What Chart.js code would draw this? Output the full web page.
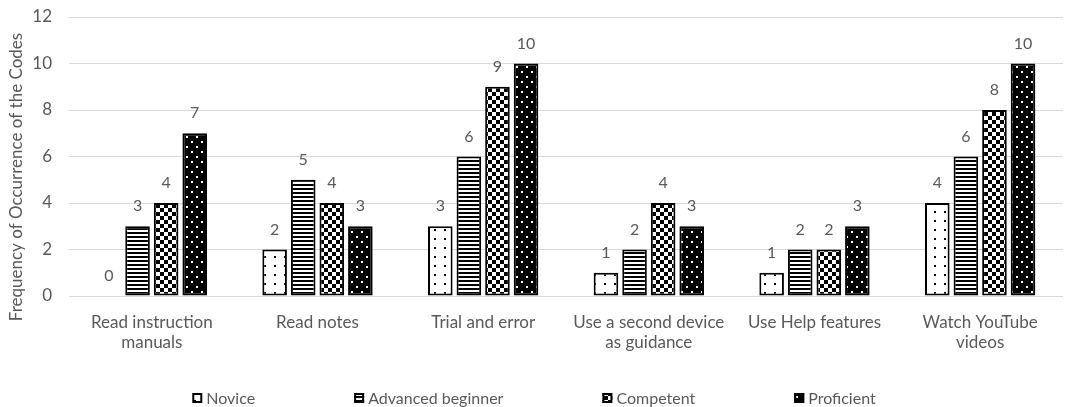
<!DOCTYPE html>
<html>
<head>
<meta charset="utf-8">
<script src="https://cdn.jsdelivr.net/npm/chart.js@4.4.1/dist/chart.umd.min.js"></script>
<style>
  html, body { margin: 0; padding: 0; background: #fff; }
  #wrap { width: 1068px; height: 407px; }
</style>
</head>
<body>
<div id="wrap"><canvas id="chart"></canvas></div>
<script>
// strategies reported per proficiency level
var categories = [
  ['Read instruction', 'manuals'],
  'Read notes',
  'Trial and error',
  ['Use a second device', 'as guidance'],
  'Use Help features',
  ['Watch YouTube', 'videos']
];
var seriesNames = ['Novice', 'Advanced beginner', 'Competent', 'Proficient'];
var novice = [0, 2, 3, 1, 1, 4];
var advancedBeginner = [3, 5, 6, 2, 2, 6];
var competent = [4, 4, 9, 4, 2, 8];
var proficient = [7, 3, 10, 3, 3, 10];
var yMax = 12;
var yStep = 2;

var FONT = 'Lato, "Open Sans", sans-serif';
var GREY = '#595959';

var canvas = document.getElementById('chart');
var ctx = canvas.getContext('2d');

function tile(w, h, paint) {
  var c = document.createElement('canvas');
  c.width = w; c.height = h;
  var g = c.getContext('2d');
  paint(g);
  return ctx.createPattern(c, 'repeat');
}

// black & white fills, one per level
var fills = [
  tile(10, 9, function (g) {
    g.fillStyle = '#fff'; g.fillRect(0, 0, 10, 9);
    g.fillStyle = '#000'; g.fillRect(4, 4, 2, 2);
  }),
  tile(4, 4, function (g) {
    g.fillStyle = '#fff'; g.fillRect(0, 0, 4, 4);
    g.fillStyle = '#000'; g.fillRect(0, 0, 4, 2);
  }),
  tile(8, 8, function (g) {
    g.fillStyle = '#fff'; g.fillRect(0, 0, 8, 8);
    g.fillStyle = '#000'; g.fillRect(0, 0, 4, 4); g.fillRect(4, 4, 4, 4);
  }),
  tile(10, 10, function (g) {
    g.fillStyle = '#000'; g.fillRect(0, 0, 10, 10);
    g.fillStyle = '#fff'; g.fillRect(1, 1, 2, 2); g.fillRect(6, 6, 2, 2);
  })
];

var valueLabels = {
  id: 'valueLabels',
  afterDatasetsDraw: function (chart) {
    var c = chart.ctx;
    c.save();
    c.font = '16px ' + FONT;
    c.fillStyle = GREY;
    c.textAlign = 'center';
    c.textBaseline = 'alphabetic';
    chart.data.datasets.forEach(function (ds, i) {
      chart.getDatasetMeta(i).data.forEach(function (bar, j) {
        c.fillText(String(ds.data[j]), bar.x, bar.y - 15);
      });
    });
    c.restore();
  }
};

var sideTitle = {
  id: 'sideTitle',
  afterDraw: function (chart) {
    var c = chart.ctx;
    c.save();
    c.font = '17px ' + FONT;
    c.fillStyle = GREY;
    c.translate(17, 177);
    c.rotate(-Math.PI / 2);
    c.textAlign = 'center';
    c.textBaseline = 'middle';
    c.fillText('Frequency of Occurrence of the Codes', 0, 0);
    c.restore();
  }
};

var bottomLegend = {
  id: 'bottomLegend',
  afterDraw: function (chart) {
    var c = chart.ctx;
    var box = 10, gap = 99, textGap = 4, y = 398;
    c.save();
    c.font = '16px ' + FONT;
    var widths = chart.data.datasets.map(function (ds) {
      return box + textGap + c.measureText(ds.label).width;
    });
    var total = widths.reduce(function (a, b) { return a + b; }, 0) + gap * (widths.length - 1);
    var x = (chart.width - total) / 2;
    chart.data.datasets.forEach(function (ds, i) {
      c.fillStyle = ds.backgroundColor;
      c.fillRect(x, y - box / 2, box, box);
      c.strokeStyle = '#000';
      c.lineWidth = 2;
      c.strokeRect(x + 1, y - box / 2 + 1, box - 2, box - 2);
      c.fillStyle = GREY;
      c.textAlign = 'left';
      c.textBaseline = 'middle';
      c.fillText(ds.label, x + box + textGap, y + 1);
      x += widths[i] + gap;
    });
    c.restore();
  }
};

var seriesData = [novice, advancedBeginner, competent, proficient];

new Chart(ctx, {
  type: 'bar',
  data: {
    labels: categories,
    datasets: seriesData.map(function (vals, i) {
      return {
        label: seriesNames[i],
        data: vals,
        backgroundColor: fills[i],
        borderColor: '#000',
        borderWidth: 2,
        borderSkipped: false,
        categoryPercentage: 0.69,
        barPercentage: 0.86
      };
    })
  },
  options: {
    responsive: true,
    maintainAspectRatio: false,
    animation: false,
    layout: { padding: { top: 17, right: 5, left: 0, bottom: 0 } },
    plugins: {
      legend: { display: false },
      tooltip: { enabled: false }
    },
    scales: {
      x: {
        grid: { display: false },
        border: { display: false },
        ticks: {
          color: GREY,
          font: { family: FONT, size: 17, lineHeight: 1.15 },
          padding: 9,
          maxRotation: 0,
          autoSkip: false
        },
        afterFit: function (scale) { scale.height = 111; }
      },
      y: {
        min: 0,
        max: yMax,
        grid: { color: '#d9d9d9', lineWidth: 1, drawTicks: false },
        border: { display: false },
        ticks: {
          stepSize: yStep,
          color: GREY,
          font: { family: FONT, size: 17 },
          padding: 17
        },
        afterFit: function (scale) {
          scale.width = 69;
          scale.paddingTop = 0;
          scale.paddingBottom = 0;
        }
      }
    }
  },
  plugins: [valueLabels, sideTitle, bottomLegend]
});
</script>
</body>
</html>
